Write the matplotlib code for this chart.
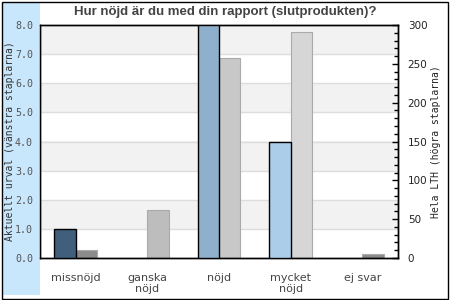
import matplotlib
matplotlib.use("Agg")
import matplotlib.pyplot as plt
from matplotlib.patches import Rectangle
from matplotlib.ticker import MultipleLocator
import numpy as np

categories = ["missnöjd", "ganska\nnöjd", "nöjd", "mycket\nnöjd", "ej svar"]
urval = [1.0, 0.0, 8.0, 4.0, 0.0]
lth = [10, 62, 257, 291, 5]
urval_colors = ["#3f5f7c", "#6f8fae", "#8eb0cc", "#abcde9", "#c0ddf3"]
lth_colors = ["#8c8c8c", "#bdbdbd", "#c8c8c8", "#d6d6d6", "#8c8c8c"]
left_ticks = [0, 1, 2, 3, 4, 5, 6, 7, 8]
right_ticks = [0, 50, 100, 150, 200, 250, 300]

W, H = 450, 300
fig = plt.figure(figsize=(4.5, 3.0), dpi=100)
fig.patch.set_facecolor("white")

# left light-blue strip and outer border
fig.patches.append(Rectangle((3 / W, 5 / H), 37 / W, 292 / H, transform=fig.transFigure,
                             facecolor="#c8e6fc", edgecolor="none", zorder=0))
fig.patches.append(Rectangle((1.5 / W, 1.5 / H), 446.5 / W, 297 / H, transform=fig.transFigure,
                             facecolor="none", edgecolor="black", lw=1.0, zorder=0))

ax = fig.add_axes([40 / W, 42 / H, 358 / W, 233 / H])
ax2 = ax.twinx()
ax.set_xlim(-0.5, len(categories) - 0.5)
ax.set_ylim(0, 8)
ax2.set_ylim(0, 300)

ax2.set_zorder(0)
ax.set_zorder(1)
ax.patch.set_visible(False)
ax2.patch.set_facecolor("white")

scale = 300 / 8
for lo in range(0, 8):
    if lo % 2 == 1:
        ax2.axhspan(lo * scale, (lo + 1) * scale, color="#f2f2f2", zorder=0, lw=0)
for t in left_ticks[1:-1]:
    ax2.axhline(t * scale, color="#dddddd", lw=1.0, zorder=0.5)

x = np.arange(len(categories))
bw = 0.3
ax2.bar(x + bw / 2, lth, width=bw, color=lth_colors, edgecolor="#aaaaaa", lw=0.8, zorder=2)
edge = ["black" if v > 0 else "none" for v in urval]
ax.bar(x - bw / 2, urval, width=bw, color=urval_colors, edgecolor=edge, lw=1.0, zorder=3)

ax.set_yticks(left_ticks)
ax.set_yticklabels([f"{v:.1f}" for v in left_ticks], family="DejaVu Sans Mono", fontsize=7.2,
                   color="#555555")
ax.tick_params(axis="y", length=0, pad=5)
ax.set_xticks(x)
ax.set_xticklabels(categories, fontsize=8, color="#444444", linespacing=1.15)
ax.tick_params(axis="x", length=0, pad=11)

ax2.set_yticks(right_ticks)
ax2.set_yticklabels([str(v) for v in right_ticks], fontsize=7.5, color="#222222")
ax2.yaxis.set_minor_locator(MultipleLocator(10))
ax2.tick_params(axis="y", which="major", direction="in", length=4, pad=7, width=1.0)
ax2.tick_params(axis="y", which="minor", direction="in", length=3, width=1.0)

for a in (ax, ax2):
    for s in a.spines.values():
        s.set_color("black")
        s.set_linewidth(1.0)

ax.set_ylabel("Aktuellt urval (vänstra staplarna)", family="DejaVu Sans Mono", fontsize=7,
              color="#333333")
ax.yaxis.set_label_coords(-24.5 / 358, 0.5)
ax2.set_ylabel("Hela LTH (högra staplarna)", family="DejaVu Sans Mono", fontsize=7,
               color="#222222")
ax2.yaxis.set_label_coords(1 + 33 / 358, 0.5)

fig.text(0.5, 1 - 12 / H, "Hur nöjd är du med din rapport (slutprodukten)?",
         ha="center", va="center", fontsize=9.5, fontweight="bold", color="#444444",
         family="Liberation Sans")

fig.savefig("out.png", dpi=100)
